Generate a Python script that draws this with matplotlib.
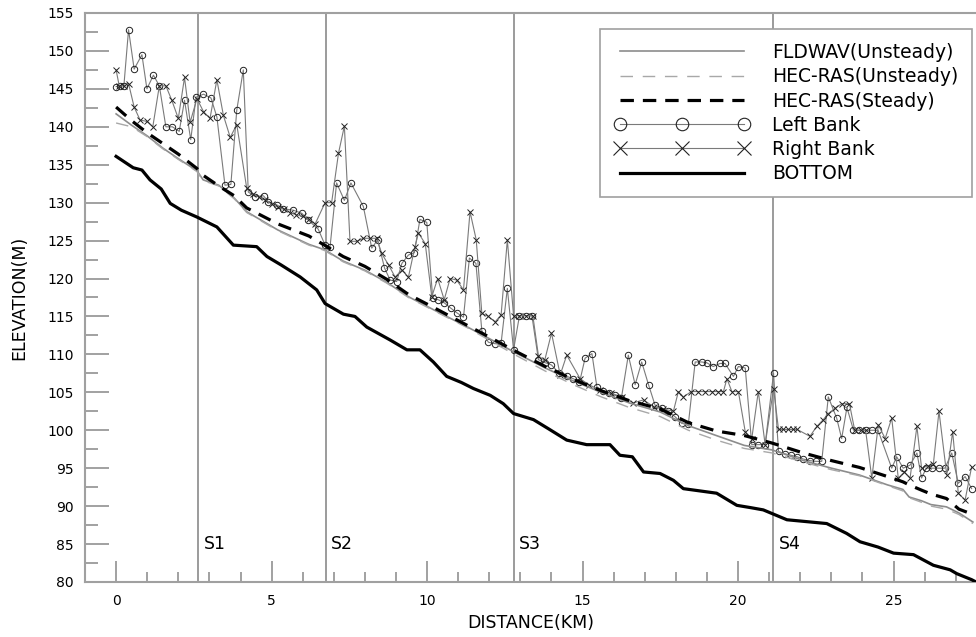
import numpy as np
import matplotlib
matplotlib.use("Agg")
import matplotlib.pyplot as plt
from matplotlib.lines import Line2D
from matplotlib.ticker import MultipleLocator

plt.rcParams['font.family'] = ['DejaVu Sans']

# water surface profiles, sampled at the same stations (km)
ws_km = [0, 0.5, 1.0, 1.5, 2.0, 2.6, 2.8, 3.3, 3.8, 4.2, 5.2, 6.2, 6.7, 7.3,
         8.0, 8.7, 9.4, 10.2, 11.3, 11.9, 12.8, 13.8, 14.7, 15.6, 16.5, 17.5,
         18.4, 19.3, 20.2, 21.1, 22.1, 23.0, 23.9, 24.8, 25.3, 25.5, 25.9,
         26.2, 26.7, 27.1, 27.55]
fldwav = [141.7, 140.2, 138.8, 137.2, 135.8, 134.2, 133.0, 132.3, 130.6,
          128.8, 126.4, 124.5, 123.8, 122.3, 121.1, 119.5, 117.6, 115.9,
          113.6, 112.3, 110.3, 108.2, 106.5, 105.0, 103.6, 102.4, 100.6,
          99.3, 98.0, 97.4, 96.0, 95.0, 94.1, 92.8, 92.2, 91.2, 90.7, 90.2,
          89.9, 89.1, 87.9]
hec_unsteady = [140.5, 140.0, 138.7, 137.1, 135.7, 134.1, 132.9, 132.2, 130.5,
                128.7, 126.3, 124.4, 123.7, 122.2, 121.0, 119.4, 117.5, 115.8,
                113.5, 112.1, 110.0, 107.8, 106.0, 104.4, 103.0, 101.8, 100.0,
                98.7, 97.6, 97.0, 95.8, 94.8, 94.0, 92.7, 92.0, 91.1, 90.5,
                90.0, 89.6, 88.9, 87.7]
hec_steady = [142.6, 140.8, 139.2, 137.8, 136.4, 134.5, 133.6, 132.2, 130.9,
              129.3, 127.2, 125.6, 124.4, 122.9, 121.6, 119.9, 117.9, 116.2,
              113.8, 112.5, 110.5, 108.4, 106.7, 105.2, 103.9, 102.8, 101.0,
              99.9, 99.3, 98.3, 97.0, 96.0, 95.1, 93.9, 93.2, 92.8, 92.1,
              91.6, 91.0, 89.6, 88.9]

# channel bed
bed_km = [0, 0.55, 0.83, 1.09, 1.45, 1.74, 2.1, 2.6, 3.24, 3.77, 4.52, 4.85,
          5.3, 5.92, 6.45, 6.72, 7.31, 7.68, 8.06, 8.81, 9.35, 9.77, 10.2,
          10.63, 11.1, 11.49, 12.03, 12.45, 12.78, 13.42, 13.9, 14.49, 15.13,
          15.88, 16.2, 16.6, 16.96, 17.49, 17.92, 18.24, 19.31, 19.96, 20.4,
          20.81, 21.57, 22.85, 23.49, 23.92, 24.5, 25.0, 25.64, 26.28, 26.82,
          27.03, 27.51, 27.65]
bed_el = [136.1, 134.6, 134.3, 133.0, 131.8, 129.9, 129.0, 128.1, 126.8,
          124.4, 124.2, 122.9, 121.8, 120.2, 118.5, 116.7, 115.3, 115.0, 113.6,
          111.9, 110.6, 110.6, 109.0, 107.1, 106.3, 105.5, 104.6, 103.5, 102.2,
          101.4, 100.2, 98.7, 98.1, 98.1, 96.7, 96.5, 94.5, 94.3, 93.4, 92.3,
          91.7, 90.1, 89.8, 89.5, 88.2, 87.7, 86.4, 85.3, 84.6, 83.8, 83.6,
          82.2, 81.6, 81.1, 80.3, 80.0]

# surveyed bank elevations
left_km = [0.0, 0.12, 0.25, 0.4, 0.58, 0.83, 0.99, 1.2, 1.39, 1.6, 1.81, 2.03,
           2.2, 2.4, 2.57, 2.81, 3.05, 3.24, 3.5, 3.69, 3.88, 4.09, 4.25,
           4.47, 4.74, 4.9, 5.17, 5.38, 5.7, 5.97, 6.18, 6.5, 6.72, 6.88,
           7.09, 7.34, 7.55, 7.95, 8.22, 8.41, 8.63, 8.81, 9.02, 9.19, 9.4,
           9.59, 9.77, 9.99, 10.18, 10.36, 10.55, 10.76, 10.95, 11.17, 11.36,
           11.57, 11.76, 11.97, 12.19, 12.38, 12.58, 12.78, 12.97, 13.17,
           13.37, 13.58, 13.8, 14.0, 14.25, 14.49, 14.7, 14.9, 15.08, 15.3,
           15.46, 15.65, 15.85, 16.05, 16.25, 16.47, 16.69, 16.9, 17.12,
           17.33, 17.55, 17.75, 17.97, 18.19, 18.4, 18.62, 18.83, 18.99, 19.2,
           19.42, 19.58, 19.85, 20.01, 20.23, 20.44, 20.65, 20.87, 21.14,
           21.3, 21.5, 21.7, 21.9, 22.1, 22.3, 22.5, 22.69, 22.9, 23.17,
           23.33, 23.5, 23.71, 23.9, 24.1, 24.3, 24.5, 24.94, 25.1, 25.31,
           25.53, 25.75, 25.9, 26.05, 26.25, 26.45, 26.65, 26.87, 27.08,
           27.3, 27.51]
left_el = [145.3, 145.4, 145.4, 152.8, 147.6, 149.5, 145.0, 146.8, 145.4,
           140.0, 140.0, 139.4, 143.5, 138.3, 143.9, 144.3, 143.8, 141.3,
           132.3, 132.4, 142.2, 147.5, 131.4, 130.8, 130.9, 130.1, 129.7,
           129.2, 129.0, 128.6, 127.7, 126.5, 124.4, 124.2, 132.6, 130.3,
           132.6, 129.5, 124.0, 125.1, 121.4, 119.8, 119.6, 122.0, 123.1,
           123.4, 127.8, 127.4, 117.4, 117.2, 116.8, 116.1, 115.5, 114.9,
           122.7, 122.0, 113.1, 111.6, 111.4, 111.5, 118.7, 110.6, 115.1,
           115.1, 115.1, 109.3, 108.9, 108.6, 107.5, 107.1, 106.8, 106.3,
           109.5, 110.1, 105.7, 105.2, 104.9, 104.6, 104.3, 109.9, 106.0,
           109.0, 106.0, 103.3, 102.9, 102.5, 101.8, 100.9, 100.8, 109.0,
           109.0, 108.9, 108.4, 108.8, 108.8, 107.1, 108.4, 108.2, 98.1, 98.1,
           98.1, 107.5, 97.2, 96.9, 96.7, 96.5, 96.2, 96.0, 95.9, 95.9, 104.4,
           101.6, 98.9, 103.0, 100.0, 100.0, 100.0, 100.0, 100.0, 95.0, 96.5,
           95.0, 95.4, 97.0, 93.7, 95.0, 95.0, 95.0, 95.0, 97.0, 93.0, 93.9,
           92.3]

right_km = [0.0, 0.1, 0.26, 0.4, 0.58, 0.77, 0.99, 1.18, 1.39, 1.6, 1.79, 2.0,
            2.2, 2.38, 2.6, 2.81, 3.02, 3.24, 3.45, 3.67, 3.88, 4.2, 4.4, 4.6,
            4.8, 5.0, 5.2, 5.4, 5.6, 5.8, 6.0, 6.2, 6.4, 6.72, 6.93, 7.15,
            7.34, 7.52, 7.74, 7.95, 8.17, 8.38, 8.54, 8.76, 8.97, 9.19, 9.4,
            9.61, 9.72, 9.94, 10.15, 10.34, 10.55, 10.74, 10.95, 11.17, 11.38,
            11.58, 11.76, 11.97, 12.19, 12.38, 12.58, 12.78, 12.97, 13.17,
            13.4, 13.58, 13.78, 14.0, 14.28, 14.49, 14.92, 15.2, 15.56, 15.9,
            16.26, 16.63, 16.96, 17.28, 17.6, 17.92, 18.08, 18.24, 18.5,
            18.72, 18.95, 19.15, 19.35, 19.53, 19.64, 19.8, 20.01, 20.23,
            20.44, 20.65, 20.87, 21.14, 21.3, 21.45, 21.6, 21.75, 21.9, 22.31,
            22.53, 22.74, 22.9, 23.12, 23.33, 23.58, 23.75, 23.95, 24.1, 24.3,
            24.51, 24.73, 24.94, 25.15, 25.35, 25.53, 25.75, 25.9, 26.1,
            26.28, 26.46, 26.71, 26.9, 27.08, 27.3, 27.51]
right_el = [147.5, 145.4, 145.4, 145.7, 142.6, 140.9, 140.7, 140.0, 145.4,
            145.4, 143.5, 141.1, 146.5, 140.6, 143.7, 142.0, 141.1, 146.2,
            141.5, 138.6, 140.3, 131.9, 131.2, 130.7, 130.4, 129.8, 129.4,
            129.1, 128.7, 128.4, 128.2, 127.8, 127.2, 130.0, 130.0, 136.5,
            140.1, 124.9, 124.9, 125.3, 125.3, 125.3, 123.3, 121.8, 120.2,
            121.1, 120.2, 124.2, 126.0, 124.6, 117.6, 120.0, 117.2, 120.0,
            119.8, 118.5, 128.8, 125.1, 115.4, 115.0, 114.3, 115.2, 125.1,
            115.1, 115.1, 115.1, 115.1, 109.8, 109.2, 112.8, 107.3, 109.9,
            106.8, 106.0, 105.3, 104.9, 104.4, 103.6, 104.0, 103.1, 102.8,
            102.5, 105.1, 104.4, 105.1, 105.1, 105.1, 105.1, 105.1, 105.1,
            106.8, 105.1, 105.1, 99.8, 98.9, 105.1, 98.1, 105.5, 100.1, 100.1,
            100.1, 100.1, 100.1, 99.2, 100.5, 101.4, 102.2, 102.9, 103.5,
            103.5, 100.0, 100.0, 100.0, 93.7, 100.7, 98.9, 101.6, 93.7, 94.5,
            93.7, 100.5, 95.0, 95.3, 95.6, 102.5, 94.1, 99.8, 91.7, 90.8, 95.2]

# reach boundaries
sec_km = [2.63, 6.74, 12.78, 21.13]
sec_names = ['S1', 'S2', 'S3', 'S4']

fig = plt.figure(figsize=(9.76, 6.37), dpi=100)
ax = fig.add_axes([0.0871, 0.0864, 0.9129, 0.8932])

for s in sec_km:
    ax.axvline(s, color='#808080', lw=1.1, zorder=1)
for s, name in zip(sec_km, sec_names):
    ax.text(s + 0.18, 85, name, fontsize=12.5, va='center', ha='left')

bank_line = dict(color='#7a7a7a', lw=0.8, mec='#222222', mfc='none', mew=0.7)
ax.plot(left_km, left_el, marker='o', ms=4.6, **bank_line, zorder=3)
ax.plot(right_km, right_el, marker='x', ms=4.8, **bank_line, zorder=3)

ax.plot(ws_km, fldwav, color='#8c8c8c', lw=1.2, zorder=4)
ax.plot(ws_km, hec_unsteady, color='#a8a8a8', lw=1.0, dashes=(9, 7), zorder=4)
ax.plot(ws_km, hec_steady, color='black', lw=2.3, dashes=(4.2, 2.8), zorder=5)
ax.plot(bed_km, bed_el, color='black', lw=2.3, zorder=5)

ax.set_xlim(-1, 27.65)
ax.set_ylim(80, 155)
ax.xaxis.set_major_locator(MultipleLocator(5))
ax.xaxis.set_minor_locator(MultipleLocator(1))
ax.yaxis.set_major_locator(MultipleLocator(5))
ax.yaxis.set_minor_locator(MultipleLocator(2.5))
ax.tick_params(which='both', direction='in', color='#9a9a9a', width=1.3,
               labelsize=10)
ax.tick_params(axis='y', which='major', length=17, pad=8)
ax.tick_params(axis='y', which='minor', length=9)
ax.tick_params(axis='x', which='major', length=15, pad=9)
ax.tick_params(axis='x', which='minor', length=7)
for side in ['left', 'bottom', 'top']:
    ax.spines[side].set_color('#a0a0a0')
    ax.spines[side].set_linewidth(1.5)
ax.spines['right'].set_visible(False)

ax.set_xlabel('DISTANCE(KM)', fontsize=12.5, labelpad=4)
ax.set_ylabel('ELEVATION(M)', fontsize=12.5, labelpad=14)

handles = [
    Line2D([], [], color='#8c8c8c', lw=1.2),
    Line2D([], [], color='#a8a8a8', lw=1.0, dashes=(9, 7)),
    Line2D([], [], color='black', lw=2.3, dashes=(4.2, 2.8)),
    Line2D([], [], color='#7a7a7a', lw=0.8, marker='o', ms=9, mfc='none',
           mec='#222222', mew=0.8),
    Line2D([], [], color='#7a7a7a', lw=0.8, marker='x', ms=10,
           mec='#222222', mew=0.8),
    Line2D([], [], color='black', lw=2.3),
]
labels = ['FLDWAV(Unsteady)', 'HEC-RAS(Unsteady)', 'HEC-RAS(Steady)',
          'Left Bank', 'Right Bank', 'BOTTOM']
leg = ax.legend(handles, labels, loc='upper right',
                bbox_to_anchor=(0.9959, 0.9545),
                bbox_transform=fig.transFigure, fontsize=13.5, numpoints=3,
                handlelength=7.2, handletextpad=1.2, labelspacing=0.28,
                borderpad=0.75, borderaxespad=0, fancybox=False, framealpha=1)
leg.get_frame().set_edgecolor('#a0a0a0')
leg.get_frame().set_linewidth(1.2)
leg.set_zorder(10)

fig.savefig('out.png', dpi=100)
